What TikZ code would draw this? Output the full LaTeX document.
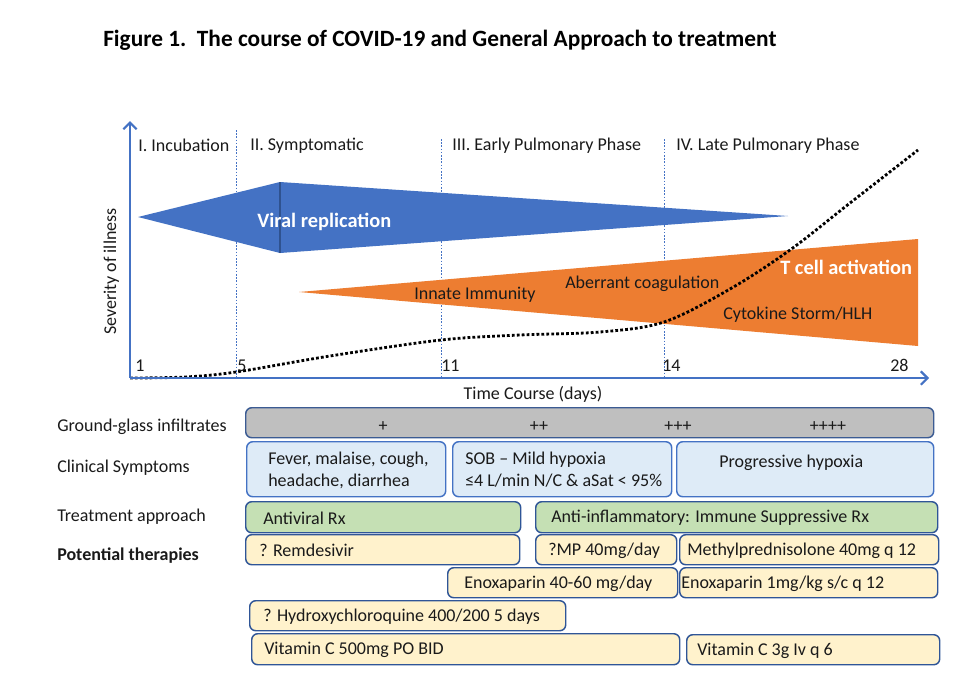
\documentclass[tikz,border=0pt]{standalone}
\usepackage{fontspec}
\setmainfont{Carlito}
\usetikzlibrary{arrows.meta}
\definecolor{AxisBlue}{HTML}{4472C4}
\definecolor{ViralBlue}{HTML}{4472C4}
\definecolor{ViralEdge}{HTML}{2F528F}
\definecolor{ImmOrange}{HTML}{ED7D31}
\definecolor{BoxEdge}{HTML}{2F5597}
\definecolor{GGFill}{HTML}{BFBFBF}
\definecolor{SymFill}{HTML}{DEEBF7}
\definecolor{SymEdge}{HTML}{4472C4}
\definecolor{TxFill}{HTML}{C5E0B4}
\definecolor{RxFill}{HTML}{FFF2CC}
\definecolor{InkGray}{HTML}{1A1A1A}
\tikzset{
    basefont/.style={font=\fontsize{13.5}{16.5}\selectfont, text=InkGray, yshift=-1.2pt},
    boxbase/.style={draw=BoxEdge, line width=1.1pt, rounded corners=4.5pt, inner sep=0pt},
    ggbox/.style={boxbase, fill=GGFill, draw=BoxEdge!85!gray},
    symbox/.style={boxbase, fill=SymFill, draw=SymEdge},
    txbox/.style={boxbase, fill=TxFill},
    rxbox/.style={boxbase, fill=RxFill},
    boxtext/.style={basefont, inner sep=0pt, anchor=west, align=left},
    rowlabel/.style={basefont, inner sep=0pt, anchor=west},
    phaselabel/.style={basefont, inner sep=0pt, anchor=west},
    daylabel/.style={basefont, inner sep=0pt, anchor=west},
    inlabel/.style={basefont, inner sep=0pt, anchor=west},
    boldlabel/.style={inlabel, text=white, font=\bfseries\fontsize{15.3}{18}\selectfont},
    axis/.style={AxisBlue, line width=1.9pt, -{Straight Barb[length=5pt, width=10pt, line width=1.6pt]}},
    phaseline/.style={AxisBlue, line width=0.6pt, dash pattern=on 1.2pt off 1.2pt},
    course/.style={black, line width=2.1pt, dash pattern=on 2.1pt off 1.6pt}
}
% box: style, name, x1, y1, x2, y2, text x, text
\newcommand{\tbox}[8]{%
    \node[#1, anchor=north west, minimum width={(#5-#3)*0.75pt}, minimum height={(#6-#4)*0.75pt}] (#2) at (#3,#4) {};
    \node[boxtext] (#2-t) at (#7,{(#4+#6)/2}) {#8};
}

\begin{document}
\begin{tikzpicture}[x=0.75pt, y=-0.75pt]
    % =========================================
    % 1. Background and title
    % =========================================
    \useasboundingbox (0,0) rectangle (967,682);
    \fill[white] (0,0) rectangle (967,682);
    \node[anchor=west, inner sep=0pt, font=\bfseries\fontsize{17.5}{21}\selectfont] (title) at (103,40)
        {Figure 1.\ \ The course of COVID-19 and General Approach to treatment};

    % =========================================
    % 2. Axes and phases
    % =========================================
    \coordinate (O) at (130,378);
    \coordinate (ytop) at (130,121);
    \coordinate (xend) at (929,378);

    \foreach \x/\top in {236/130, 441/139, 664/139} {
        \draw[phaseline] (\x,\top) -- (\x,378);
    }

    % Viral replication
    \fill[ViralBlue] (138,217) -- (280,182) -- (280,253) -- cycle;
    \fill[ViralBlue] (280,182) -- (788,216) -- (280,253) -- cycle;
    \draw[ViralEdge, line width=0.8pt] (280,182) -- (280,253);
    \node[boldlabel] (viral) at (257,220) {Viral replication};

    % Host response
    \fill[ImmOrange] (299,292) -- (918,239) -- (918,346) -- cycle;
    \node[inlabel] (innate) at (414,293) {Innate Immunity};
    \node[inlabel] (coag) at (565,282) {Aberrant coagulation};
    \node[inlabel] (storm) at (723,313) {Cytokine Storm/HLH};
    \node[boldlabel] (tcell) at (780,266) {T cell activation};

    % course of illness
    \draw[course] plot[smooth, tension=0.55] coordinates {(130,378) (185,377) (236,372) (330,356) (441,340)
        (520,335) (600,332) (664,322) (730,289) (790,250) (850,203) (918,150)};

    \draw[axis] (O) -- (ytop);
    \draw[axis] (O) -- (xend);

    \foreach \n/\x/\txt in {inc/138/I. Incubation, sym/250/II. Symptomatic,
                            early/452/III. Early Pulmonary Phase, late/676/IV. Late Pulmonary Phase} {
        \node[phaselabel] (ph-\n) at (\x,144) {\txt};
    }
    \foreach \d/\x in {1/135, 5/237, 11/441, 14/662, 28/890} {
        \node[daylabel] (day-\d) at (\x,364) {\d};
    }
    \node[basefont, inner sep=0pt] (timecourse) at (533,393) {Time Course (days)};
    \node[basefont, inner sep=0pt, rotate=90, yshift=1.2pt] (severity) at (113,270) {Severity of illness};

    % =========================================
    % 3. Rows
    % =========================================
    \node[rowlabel] (lbl-gg) at (57,425) {Ground-glass infiltrates};
    \node[rowlabel] (lbl-sym) at (57,466) {Clinical Symptoms};
    \node[rowlabel] (lbl-tx) at (57,515) {Treatment approach};
    \node[rowlabel, font=\bfseries\fontsize{13.5}{16.5}\selectfont] (lbl-rx) at (57,554) {Potential therapies};

    % ground-glass
    \node[ggbox, anchor=north west, minimum width={688*0.75pt}, minimum height={30*0.75pt}] (gg) at (245,407) {};
    \foreach \x/\p in {383/+, 539/++, 678/+++, 828/++++} {
        \node[basefont, inner sep=0pt] (gg-\x) at (\x,425) {\p};
    }

    % clinical symptoms
    \tbox{symbox}{sym-a}{246}{441}{445}{496}{268}{Fever, malaise, cough,\\headache, diarrhea}
    \tbox{symbox}{sym-b}{452}{441}{671}{496}{465}{SOB – Mild hypoxia\\≤4 L/min N/C \& aSat < 95\%}
    \node[symbox, anchor=north west, minimum width={257*0.75pt}, minimum height={55*0.75pt}] (sym-c) at (676,441) {};
    \node[boxtext] (sym-c-t) at (719,461) {Progressive hypoxia};

    % treatment approach
    \tbox{txbox}{tx-a}{245}{501}{520}{532}{263}{Antiviral Rx}
    \tbox{txbox}{tx-b}{535}{501}{937}{532}{551}{Anti-inflammatory: Immune Suppressive Rx}

    % potential therapies
    \tbox{rxbox}{rx-remd}{245}{534}{519}{564}{259}{? Remdesivir}
    \tbox{rxbox}{rx-mp}{535}{534}{676}{564}{548}{?MP 40mg/day}
    \tbox{rxbox}{rx-mpq}{679}{534}{938}{564}{687}{Methylprednisolone 40mg q 12}
    \tbox{rxbox}{rx-enox}{447}{567}{677}{597}{464}{Enoxaparin 40-60 mg/day}
    \tbox{rxbox}{rx-enoxq}{679}{567}{937}{597}{681}{Enoxaparin 1mg/kg s/c q 12}
    \tbox{rxbox}{rx-hcq}{249}{600}{565}{630}{263}{? Hydroxychloroquine 400/200 5 days}
    \tbox{rxbox}{rx-vitc}{251}{633}{679}{664}{264}{Vitamin C 500mg PO BID}
    \tbox{rxbox}{rx-vitciv}{686}{634}{939}{664}{697}{Vitamin C 3g Iv q 6}

\end{tikzpicture}
\end{document}
